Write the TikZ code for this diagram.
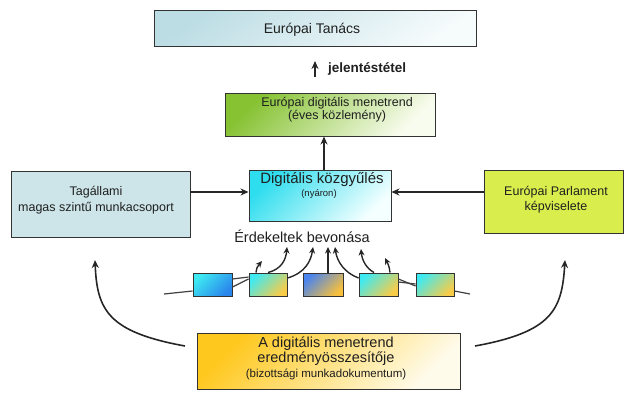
\documentclass[tikz,border=0pt]{standalone}
\usepackage{fontspec}
\setmainfont{Liberation Sans}
\usetikzlibrary{arrows.meta,calc}
\definecolor{tanA}{HTML}{BCDDE4}
\definecolor{tanB}{HTML}{F6FBFC}
\definecolor{menA}{HTML}{86C232}
\definecolor{menB}{HTML}{F8FCEE}
\definecolor{kozA}{HTML}{2EDDEE}
\definecolor{kozB}{HTML}{F4FFFF}
\definecolor{tagC}{HTML}{CDE5E9}
\definecolor{parC}{HTML}{D9EE4C}
\definecolor{botA}{HTML}{FFC81E}
\definecolor{botB}{HTML}{FFFBEA}
\definecolor{sCyan}{HTML}{3EEAF2}
\definecolor{sBlue}{HTML}{2A86EC}
\definecolor{sYel}{HTML}{F8CC48}
\definecolor{sBlu3}{HTML}{4A84EE}
\definecolor{sOra}{HTML}{F8C03C}
\begin{document}
\begin{tikzpicture}[x=1pt,y=-1pt,
  box/.style={draw=black!80, line width=0.9pt, inner sep=0pt},
  sbox/.style={box, minimum height=23pt},
  diag/.style n args={3}{top color=#1, bottom color=#2, shading angle=#3},
  arr/.style={-{Stealth[length=8pt,width=7pt]}, line width=1.6pt, draw=black!85},
  arrsm/.style={-{Stealth[length=6.5pt,width=6pt]}, line width=1.4pt, draw=black!85},
  link/.style={line width=1.2pt, draw=black!75},
  tx/.style={inner sep=0pt, align=center, text=black!88},
]
\useasboundingbox (0,0) rectangle (624,392);

% boxes
\node[box, minimum width=322pt, minimum height=36pt, diag={tanA}{tanB}{35}] (tanacs) at (315,28) {};
\node[box, minimum width=210pt, minimum height=43pt, diag={menA}{menB}{45}] (menet) at (330,114.5) {};
\node[box, minimum width=142pt, minimum height=51pt, diag={kozA}{kozB}{45}] (kozgy) at (320,195.5) {};
\node[box, minimum width=179pt, minimum height=66pt, fill=tagC] (tag) at (100.5,204) {};
\node[box, minimum width=139pt, minimum height=63pt, fill=parC] (parl) at (553.5,201.5) {};
\node[box, minimum width=263pt, minimum height=56pt, diag={botA}{botB}{45}] (bot) at (328.5,361) {};

% small boxes
\node[sbox, minimum width=39pt, diag={sCyan}{sBlue}{45}] (s1) at (212.5,284.5) {};
\node[sbox, minimum width=38pt, diag={sCyan}{sYel}{45}] (s2) at (268,284.5) {};
\node[sbox, minimum width=40pt, diag={sBlu3}{sOra}{45}] (s3) at (323,284.5) {};
\node[sbox, minimum width=39pt, diag={sCyan}{sYel}{45}] (s4) at (378.5,284.5) {};
\node[sbox, minimum width=38pt, diag={sCyan}{sYel}{45}] (s5) at (435,284.5) {};

% texts
\node[tx, font=\fontsize{14}{16}\selectfont] (tanacsT) at (312,30) {Európai Tanács};
\node[tx, font=\fontsize{13.5}{16}\selectfont\bfseries, anchor=west] (jelT) at (328,69) {jelentéstétel};
\node[tx, font=\fontsize{12.5}{13}\selectfont] (menetT) at (337,109.5) {Európai digitális menetrend\\(éves közlemény)};
\node[tx, font=\fontsize{15}{16}\selectfont] (kozgyT) at (322,180) {Digitális közgyűlés};
\node[tx, font=\fontsize{9.5}{11}\selectfont] (nyarT) at (319,194) {(nyáron)};
\node[tx, font=\fontsize{12.5}{16}\selectfont] (tagT) at (96,200) {Tagállami\\magas szintű munkacsoport};
\node[tx, font=\fontsize{12.5}{15}\selectfont] (parlT) at (556,199.5) {Európai Parlament\\képviselete};
\node[tx, font=\fontsize{14.5}{16}\selectfont] (erdT) at (302,236) {Érdekeltek bevonása};
\node[tx, font=\fontsize{14.5}{15}\selectfont] (botT) at (326,358) {A digitális menetrend\\eredményösszesítője\\{\fontsize{11.5}{15}\selectfont (bizottsági munkadokumentum)}};

% coordinates
\coordinate (j0) at (315,77);
\coordinate (j1) at (315,61);
\coordinate (lS) at (185,346);
\coordinate (lE) at (95,260);
\coordinate (rS) at (475,346);
\coordinate (rE) at (565,260);
\coordinate (ea) at (262,261);
\coordinate (eb) at (287,247);
\coordinate (ec) at (313,247);
\coordinate (ed) at (328,247);
\coordinate (ee) at (335,247);
\coordinate (ef) at (361,249);
\coordinate (eg) at (385,258);
\coordinate (lL) at (164,294);
\coordinate (lR) at (470,294);

% main arrows
\draw[arr] (j0) -- (j1);
\draw[arr] ([xshift=4pt]kozgy.north) -- ([xshift=4pt]kozgy.north |- menet.south);
\draw[arr] ([yshift=12pt]tag.east) -- ([yshift=12pt]tag.east -| kozgy.west);
\draw[arr] ([yshift=9.5pt]parl.west) -- ([yshift=9.5pt]parl.west -| kozgy.east);
\draw[arr] (lS) .. controls (108,332) and (97,310) .. (lE);
\draw[arr] (rS) .. controls (552,332) and (562,310) .. (rE);

% small arrows
\draw[arrsm] ([xshift=-12pt]s2.north) .. controls (257,267) .. (ea);
\draw[arrsm] (s2.north) .. controls (282,269) and (286,259) .. (eb);
\draw[arrsm] ([yshift=6.5pt]s2.east) .. controls (305,273) and (311,261) .. (ec);
\draw[arrsm] ([xshift=5pt]s3.north) -- (ed);
\draw[arrsm] ([yshift=6.5pt]s4.west) .. controls (345,273) and (337,262) .. (ee);
\draw[arrsm] ([xshift=-4.5pt]s4.north) .. controls (366,268) and (362,260) .. (ef);
\draw[arrsm] ([xshift=11.5pt]s4.north) .. controls (389,266) .. (eg);

% links
\draw[link] (lL) -- ([yshift=-6.5pt]s1.west);
\draw[link] ([yshift=5.5pt]s1.east) -- ([yshift=7.5pt]s2.west);
\draw[link] ([yshift=-2.5pt]s1.east) -- ([yshift=5.5pt]s2.west);
\draw[link] ([yshift=5.5pt]s4.east) -- ([yshift=-1.5pt]s5.west);
\draw[link] ([yshift=2.5pt]s4.east) -- ([yshift=0.5pt]s5.west);
\draw[link] ([yshift=-6.5pt]s5.east) -- (lR);
\end{tikzpicture}
\end{document}
